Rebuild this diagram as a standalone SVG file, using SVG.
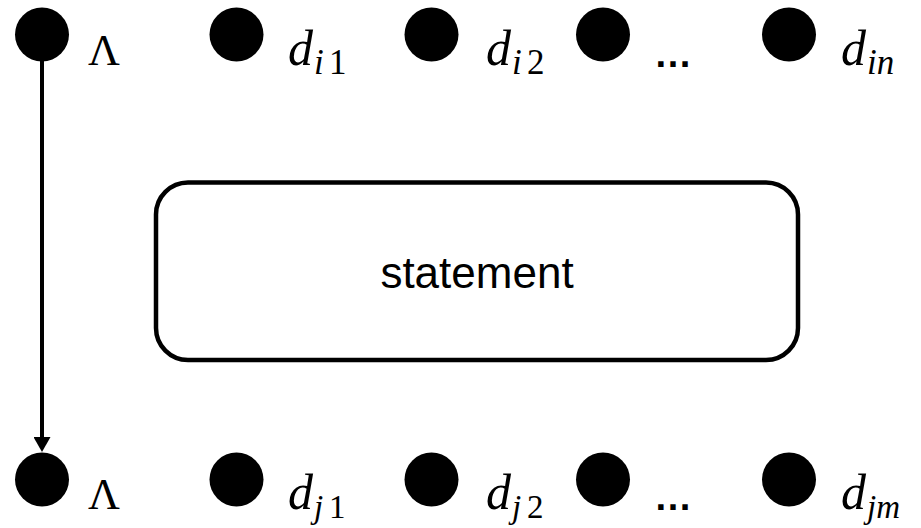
<svg xmlns="http://www.w3.org/2000/svg" width="921" height="528" viewBox="0 0 921 528">
<style>
.dot{fill:#000}
.m{font-family:"Liberation Serif","DejaVu Serif",serif;fill:#000}
.it{font-style:italic}
.d{font-size:50px}
.sub{font-size:35px}
.subb{font-size:33px}
.lam{font-family:"Liberation Serif","DejaVu Serif",serif;font-size:44px;fill:#000}
.ell{font-family:"Liberation Sans",Arial,sans-serif;font-weight:bold;font-size:38px;fill:#000}
.box{fill:#fff;stroke:#000;stroke-width:4.5}
.lbl{font-family:"Liberation Sans",Arial,sans-serif;font-size:44px;fill:#000;text-anchor:middle}
.edge{stroke:#000;stroke-width:4;fill:none}
</style>
<defs>
<marker id="ah" markerUnits="userSpaceOnUse" viewBox="0 0 15 17" refX="1" refY="8.5" markerWidth="15" markerHeight="17" orient="auto">
<path d="M0,0 L15,8.5 L0,17 z" fill="#000"/>
</marker>
</defs>
<rect width="921" height="528" fill="#fff"/>

<g id="top-lambda"><circle class="dot" cx="42" cy="34.5" r="27"/><text class="lam" x="88" y="65">Λ</text></g>
<g id="top-di1"><circle class="dot" cx="236.5" cy="34.5" r="27"/><text class="m" y="65"><tspan class="it d" x="288">d</tspan><tspan class="it sub" x="314" y="74">i</tspan><tspan class="sub" x="329" y="74">1</tspan></text></g>
<g id="top-di2"><circle class="dot" cx="431.5" cy="34.5" r="27"/><text class="m" y="65"><tspan class="it d" x="486">d</tspan><tspan class="it sub" x="512" y="74">i</tspan><tspan class="sub" x="527" y="74">2</tspan></text></g>
<g id="top-ellipsis"><circle class="dot" cx="603" cy="34.5" r="27"/><text class="ell" x="654" y="67">…</text></g>
<g id="top-din"><circle class="dot" cx="789" cy="34.5" r="27"/><text class="m" y="65"><tspan class="it d" x="841">d</tspan><tspan class="it sub" x="867" y="74">in</tspan></text></g>

<g id="statement"><rect class="box" x="156" y="182.5" width="642" height="177.5" rx="32" ry="32"/><text class="lbl" x="477" y="288">statement</text></g>

<g id="bot-lambda"><circle class="dot" cx="42" cy="479.5" r="27"/><text class="lam" x="88" y="509">Λ</text></g>
<g id="bot-dj1"><circle class="dot" cx="236.5" cy="479.5" r="27"/><text class="m" y="509"><tspan class="it d" x="288">d</tspan><tspan class="it subb" x="314" y="518">j</tspan><tspan class="subb" x="329" y="518">1</tspan></text></g>
<g id="bot-dj2"><circle class="dot" cx="431.5" cy="479.5" r="27"/><text class="m" y="509"><tspan class="it d" x="486">d</tspan><tspan class="it subb" x="512" y="518">j</tspan><tspan class="subb" x="527" y="518">2</tspan></text></g>
<g id="bot-ellipsis"><circle class="dot" cx="603" cy="479.5" r="27"/><text class="ell" x="654" y="510">…</text></g>
<g id="bot-djm"><circle class="dot" cx="789" cy="479.5" r="27"/><text class="m" y="509"><tspan class="it d" x="841">d</tspan><tspan class="it subb" x="867" y="518">jm</tspan></text></g>

<g id="connectors"><line class="edge" x1="42" y1="61" x2="42" y2="438" marker-end="url(#ah)"/></g>
</svg>
